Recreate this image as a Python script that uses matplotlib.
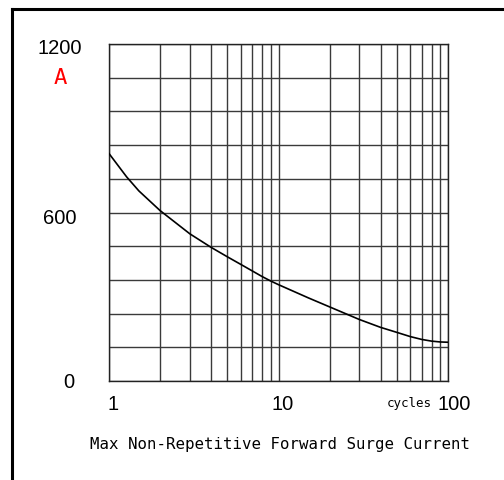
import numpy as np
import matplotlib
matplotlib.use("Agg")
import matplotlib.pyplot as plt
import matplotlib.transforms as mtransforms
from matplotlib.lines import Line2D

# Data
cycles = [1, 1.27, 1.5, 2, 3, 4, 5, 6, 7, 8, 9, 10, 15, 20, 30, 40, 50, 60, 70, 80, 90, 100]
current = [810, 727, 677, 607, 524, 476, 442, 415, 392, 372, 356, 343, 296, 264, 219,
           191, 173, 158, 148, 142, 139, 138]

y_grid = list(range(0, 1201, 120))
x_grid = [1, 2, 3, 4, 5, 6, 7, 8, 9, 10, 20, 30, 40, 50, 60, 70, 80, 90, 100]
y_labels = [(1200, "1200"), (600, "600"), (0, "0")]
x_labels = [(1, "1"), (10, "10"), (100, "100")]

W, H = 504, 480
fig = plt.figure(figsize=(W / 100, H / 100), dpi=100)
ax = fig.add_axes([109 / W, 1 - 381 / H, 339 / W, 337 / H])
ax.set_xscale("log")
ax.set_xlim(1, 100)
ax.set_ylim(0, 1200)

for v in y_grid:
    ax.axhline(v, color="#3a3a3a", lw=1.0, zorder=1)
for v in x_grid:
    ax.axvline(v, color="#3a3a3a", lw=1.0, zorder=1)

ax.plot(cycles, current, color="black", lw=1.2, zorder=3)

ax.set_xticks([])
ax.set_yticks([])
ax.minorticks_off()
for s in ax.spines.values():
    s.set_color("#222222")
    s.set_linewidth(1.0)

num_font = dict(family=["Liberation Sans", "DejaVu Sans"], fontsize=14.5, color="black")

def px(x, y):
    return x / W, 1 - y / H

# y labels: x in pixels (figure), y in data
ybt = mtransforms.blended_transform_factory(fig.transFigure, ax.transData)
ypos = {1200: (60, -5), 600: (60, -6), 0: (69, -2)}
for val, txt in y_labels:
    xp, dy = ypos[val]
    off = mtransforms.ScaledTranslation(0, dy / 100, fig.dpi_scale_trans)
    ax.text(xp / W, val, txt, transform=ybt + off, ha="center", va="center", **num_font)

# x labels: x in data, y in pixels
xbt = mtransforms.blended_transform_factory(ax.transData, fig.transFigure)
xoff = {1: 4, 10: 4.5, 100: 6}
for val, txt in x_labels:
    off = mtransforms.ScaledTranslation(xoff[val] / 100, 0, fig.dpi_scale_trans)
    ax.text(val, 1 - 404 / H, txt, transform=xbt + off, ha="center", va="center", **num_font)

fig.text(*px(60, 78), "A", color="red", family=["DejaVu Sans Mono"], fontsize=16,
         ha="center", va="center")
fig.text(*px(409, 404), "cycles", color="black", family=["DejaVu Sans Mono"], fontsize=9,
         ha="center", va="center")
fig.text(*px(280, 445), "Max Non-Repetitive Forward Surge Current", color="black",
         family=["DejaVu Sans Mono"], fontsize=11.3, ha="center", va="center")

# outer frame (left and top visible)
fig.add_artist(Line2D([11.8 / W, 11.8 / W], [0, 1 - 9 / H], transform=fig.transFigure,
                      color="black", lw=2.2))
fig.add_artist(Line2D([11.8 / W, 1], [1 - 9 / H, 1 - 9 / H], transform=fig.transFigure,
                      color="black", lw=2.2))

fig.savefig("out.png", dpi=100)
